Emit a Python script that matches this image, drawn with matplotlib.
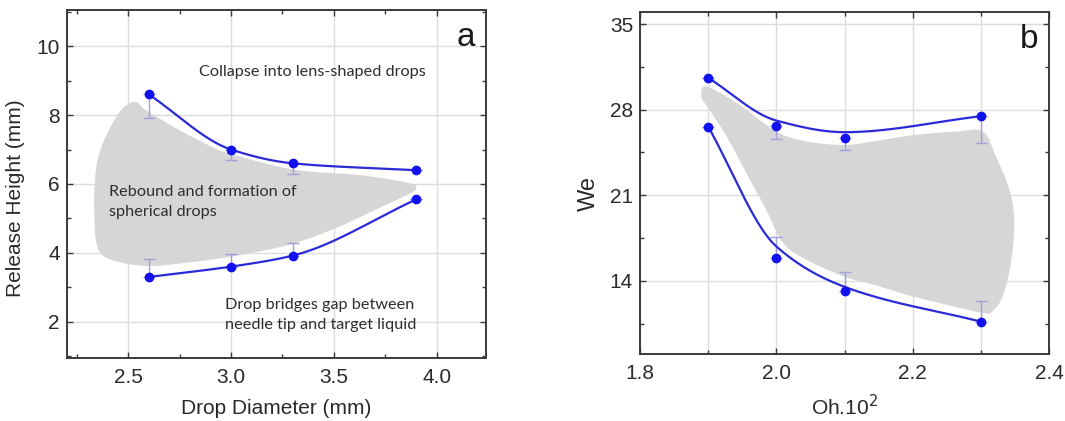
import numpy as np
import matplotlib
matplotlib.use("Agg")
import matplotlib.pyplot as plt
from matplotlib.ticker import MultipleLocator, FixedLocator

plt.rcParams['font.family'] = ['Liberation Sans', 'DejaVu Sans']

# ---------------- data: panel a ----------------
diam = [2.6, 3.0, 3.3, 3.9]
a_upper = [8.6, 7.0, 6.6, 6.4]
a_upper_err_down = [0.68, 0.3, 0.3, 0.0]
a_lower = [3.3, 3.6, 3.92, 5.55]
a_lower_err_up = [0.52, 0.38, 0.38, 0.0]
a_region_x = [2.54, 2.586, 2.75, 2.91, 2.99, 3.24, 3.40, 3.64, 3.87, 3.90,
              3.87, 3.73, 3.56, 3.40, 3.24, 2.99, 2.75, 2.586, 2.42, 2.35,
              2.334, 2.342, 2.375, 2.44, 2.489]
a_region_y = [8.38, 8.14, 7.56, 7.07, 6.89, 6.49, 6.35, 6.25, 6.02, 5.87,
              5.72, 5.33, 4.85, 4.46, 4.17, 3.88, 3.69, 3.62, 3.79, 4.17,
              5.24, 6.4, 7.17, 7.94, 8.28]
a_texts = ["Collapse into lens-shaped drops",
           "Rebound and formation of\nspherical drops",
           "Drop bridges gap between\nneedle tip and target liquid"]

# ---------------- data: panel b ----------------
oh = [1.9, 2.0, 2.1, 2.3]
b_upper = [30.6, 26.67, 25.66, 27.46]
b_upper_fit = [30.6, 27.1, 26.15, 27.46]
b_upper_err_down = [0.0, 1.1, 1.0, 2.2]
b_lower = [26.6, 15.85, 13.15, 10.65]
b_lower_fit = [26.6, 16.8, 13.5, 10.65]
b_lower_err_up = [0.0, 1.7, 1.6, 1.65]
b_region_x = [1.898, 1.946, 2.0, 2.044, 2.099, 2.142, 2.2, 2.264, 2.303,
              2.322, 2.342, 2.349, 2.344, 2.332, 2.317, 2.303, 2.239, 2.2,
              2.142, 2.099, 2.044, 2.01, 1.985, 1.956, 1.927, 1.902, 1.890]
b_region_y = [29.88, 28.38, 26.2, 25.4, 25.1, 25.4, 25.9, 26.2, 26.2,
              24.16, 21.44, 18.72, 15.45, 12.72, 11.5, 11.36, 12.18, 12.72,
              13.68, 14.35, 15.72, 17.08, 19.8, 22.8, 25.8, 27.97, 29.06]

LINE = '#2a2ad8'
MARK = '#1010f0'
ERR = '#a0a0dc'
FILL = '#d6d6d6'
SPINE = '#3a3a3a'
GRID = '#dcdcdc'
TXT = '#2a2a2a'
NARROW = ['Liberation Sans Narrow', 'Liberation Sans', 'DejaVu Sans']


def pchip(x, y, n=200):
    x = np.asarray(x, float); y = np.asarray(y, float)
    h = np.diff(x); d = np.diff(y) / h
    m = np.zeros_like(y)
    for k in range(1, len(x) - 1):
        if d[k - 1] * d[k] > 0:
            w1 = 2 * h[k] + h[k - 1]; w2 = h[k] + 2 * h[k - 1]
            m[k] = (w1 + w2) / (w1 / d[k - 1] + w2 / d[k])
    m[0] = d[0]; m[-1] = d[-1]
    xs = np.linspace(x[0], x[-1], n)
    idx = np.clip(np.searchsorted(x, xs) - 1, 0, len(x) - 2)
    t = (xs - x[idx]) / h[idx]
    h00 = 2 * t**3 - 3 * t**2 + 1; h10 = t**3 - 2 * t**2 + t
    h01 = -2 * t**3 + 3 * t**2; h11 = t**3 - t**2
    ys = h00 * y[idx] + h10 * h[idx] * m[idx] + h01 * y[idx + 1] + h11 * h[idx] * m[idx + 1]
    return xs, ys


def closed_smooth(px, py, n=20):
    px = np.asarray(px, float); py = np.asarray(py, float)
    N = len(px); out_x = []; out_y = []
    for i in range(N):
        p0 = i - 1; p1 = i; p2 = (i + 1) % N; p3 = (i + 2) % N
        t = np.linspace(0, 1, n, endpoint=False)
        for arr, out in ((px, out_x), (py, out_y)):
            a0, a1, a2, a3 = arr[p0], arr[p1], arr[p2], arr[p3]
            v = 0.5 * ((2 * a1) + (-a0 + a2) * t + (2 * a0 - 5 * a1 + 4 * a2 - a3) * t**2
                       + (-a0 + 3 * a1 - 3 * a2 + a3) * t**3)
            out.extend(v)
    return np.array(out_x), np.array(out_y)


def style_axes(ax, size):
    for s in ax.spines.values():
        s.set_color(SPINE); s.set_linewidth(1.4)
    ax.tick_params(which='both', direction='in', top=True, right=True,
                   color=SPINE, width=1.0, labelsize=size, labelcolor=TXT)
    ax.tick_params(which='major', length=4)
    ax.tick_params(axis='x', which='major', pad=7)
    ax.tick_params(axis='y', which='major', pad=5)
    ax.tick_params(which='minor', length=3)
    ax.set_axisbelow(True)


fig = plt.figure(figsize=(10.65, 4.21), dpi=100)
ax1 = fig.add_axes([0.0626, 0.150, 0.3937, 0.826])
ax2 = fig.add_axes([0.601, 0.159, 0.384, 0.813])

# ---- panel a ----
rx, ry = closed_smooth(a_region_x, a_region_y)
ax1.fill(rx, ry, color=FILL, lw=0, zorder=1)
xs, ys = pchip(diam, a_upper)
ax1.plot(xs, ys, color=LINE, lw=1.6, zorder=3)
xs, ys = pchip(diam, a_lower)
ax1.plot(xs, ys, color=LINE, lw=1.6, zorder=3)
ax1.errorbar(diam, a_upper, yerr=[a_upper_err_down, [0] * 4], fmt='none',
             ecolor=ERR, elinewidth=1.0, capsize=4, zorder=2)
ax1.errorbar(diam, a_lower, yerr=[[0] * 4, a_lower_err_up], fmt='none',
             ecolor=ERR, elinewidth=1.0, capsize=4, zorder=2)
ax1.plot(diam, a_upper, 'o', color=MARK, ms=6, zorder=4)
ax1.plot(diam, a_lower, 'o', color=MARK, ms=6, zorder=4)
ax1.set_xlim(2.2, 4.24)
ax1.set_ylim(0.95, 11.05)
ax1.xaxis.set_major_locator(FixedLocator([2.5, 3.0, 3.5, 4.0]))
ax1.xaxis.set_minor_locator(MultipleLocator(0.25))
ax1.yaxis.set_major_locator(FixedLocator([2, 4, 6, 8, 10]))
ax1.yaxis.set_minor_locator(MultipleLocator(1))
ax1.grid(True, which='major', color=GRID, lw=1.0)
style_axes(ax1, 15)
ax1.set_xlabel('Drop Diameter (mm)', fontsize=15, color=TXT, labelpad=9)
ax1.set_ylabel('Release Height (mm)', fontsize=15, color=TXT)
ax1.yaxis.set_label_coords(-0.10, 0.46)
ax1.text(0.975, 0.965, 'a', transform=ax1.transAxes, ha='right', va='top',
         fontsize=24, color='#1a1a1a')
tf = dict(family=['Lato', 'DejaVu Sans'], fontsize=11.7, color='#2e2e2e')
ax1.text(2.845, 9.25, a_texts[0], ha='left', va='center', **tf)
ax1.text(2.405, 5.48, a_texts[1], ha='left', va='center', linespacing=1.5, **tf)
ax1.text(2.972, 2.2, a_texts[2], ha='left', va='center', linespacing=1.5, **tf)

# ---- panel b ----
rx, ry = closed_smooth(b_region_x, b_region_y)
ax2.fill(rx, ry, color=FILL, lw=0, zorder=1)
xs, ys = pchip(oh, b_upper_fit)
ax2.plot(xs, ys, color=LINE, lw=1.6, zorder=3)
xs, ys = pchip(oh, b_lower_fit)
ax2.plot(xs, ys, color=LINE, lw=1.6, zorder=3)
ax2.errorbar(oh, b_upper, yerr=[b_upper_err_down, [0] * 4], fmt='none',
             ecolor=ERR, elinewidth=1.0, capsize=4, zorder=2)
ax2.errorbar(oh, b_lower, yerr=[[0] * 4, b_lower_err_up], fmt='none',
             ecolor=ERR, elinewidth=1.0, capsize=4, zorder=2)
ax2.plot(oh, b_upper, 'o', color=MARK, ms=6, zorder=4)
ax2.plot(oh, b_lower, 'o', color=MARK, ms=6, zorder=4)
ax2.set_xlim(1.8, 2.4)
ax2.set_ylim(8, 36)
ax2.xaxis.set_major_locator(FixedLocator([1.8, 2.0, 2.2, 2.4]))
ax2.xaxis.set_minor_locator(FixedLocator([1.9, 2.1, 2.3]))
ax2.yaxis.set_major_locator(FixedLocator([14, 21, 28, 35]))
ax2.yaxis.set_minor_locator(FixedLocator([10.5, 17.5, 24.5, 31.5]))
ax2.xaxis.set_major_formatter(matplotlib.ticker.FormatStrFormatter('%.1f'))
ax2.grid(True, which='major', color=GRID, lw=1.0)
ax2.grid(True, which='minor', axis='x', color=GRID, lw=1.0)
style_axes(ax2, 15)
for lab in ax2.get_xticklabels() + ax2.get_yticklabels():
    lab.set_family(NARROW)
ax2.set_xlabel('Oh.10$^2$', fontsize=15, color=TXT, labelpad=8, family=NARROW)
ax2.set_ylabel('We', fontsize=17, color=TXT, family=NARROW)
ax2.yaxis.set_label_coords(-0.098, 0.47)
ax2.text(0.975, 0.965, 'b', transform=ax2.transAxes, ha='right', va='top',
         fontsize=24, color='#1a1a1a')

fig.savefig('out.png', dpi=100, facecolor='white')
